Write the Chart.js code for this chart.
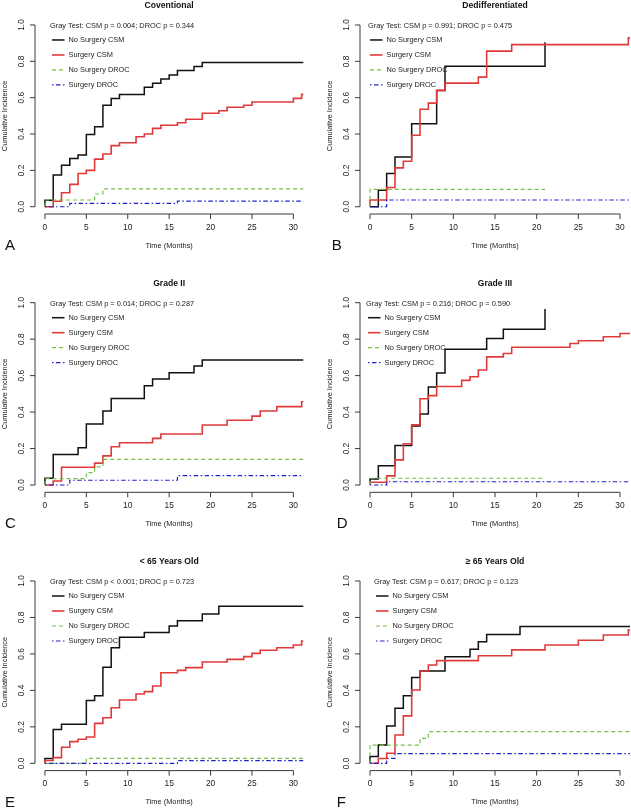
<!DOCTYPE html>
<html>
<head>
<meta charset="utf-8">
<script src="https://cdn.jsdelivr.net/npm/chart.js@4.4.1/dist/chart.umd.min.js"></script>
<style>
  html, body { margin: 0; padding: 0; background: #fff; }
  #wrap { position: relative; width: 631px; height: 809px; overflow: hidden; }
  #wrap canvas { position: absolute; }
</style>
</head>
<body>
<div id="wrap"></div>
<script>
// axis ticks
const xTicks = [0, 5, 10, 15, 20, 25, 30];
const xTickLabels = ["0", "5", "10", "15", "20", "25", "30"];
const yTicks = [0, 0.2, 0.4, 0.6, 0.8, 1.0];
const yTickLabels = ["0.0", "0.2", "0.4", "0.6", "0.8", "1.0"];

const seriesNames = ["No Surgery CSM", "Surgery CSM", "No Surgery DROC", "Surgery DROC"];
const panelTitles = ["Coventional", "Dedifferentiated", "Grade II", "Grade III", "< 65 Years Old", "\u2265 65 Years Old"];
const panelLetters = ["A", "B", "C", "D", "E", "F"];
const grayTests = [
  "Gray Test: CSM p = 0.004; DROC p = 0.344",
  "Gray Test: CSM p = 0.991; DROC p = 0.475",
  "Gray Test: CSM p = 0.014; DROC p = 0.287",
  "Gray Test: CSM p = 0.216; DROC p = 0.590",
  "Gray Test: CSM p < 0.001; DROC p = 0.723",
  "Gray Test: CSM p = 0.617; DROC p = 0.123"
];

// A - Coventional
const aNoSurgCsmT = [0, 0, 1, 2, 3, 4, 5, 6, 7, 8, 9, 12, 13, 14, 15, 16, 18, 19, 32];
const aNoSurgCsmY = [0, 0.035, 0.174, 0.228, 0.266, 0.284, 0.398, 0.44, 0.558, 0.596, 0.618, 0.657, 0.679, 0.703, 0.725, 0.749, 0.771, 0.794, 0.794];
const aSurgCsmT = [0, 1, 2, 3, 4, 5, 6, 7, 8, 9, 11, 12, 13, 14, 16, 17, 19, 21, 22, 24, 25, 30, 31, 32];
const aSurgCsmY = [0, 0.03, 0.077, 0.123, 0.183, 0.2, 0.262, 0.29, 0.336, 0.352, 0.385, 0.4, 0.431, 0.448, 0.462, 0.481, 0.514, 0.528, 0.547, 0.558, 0.576, 0.596, 0.618, 0.618];
const aNoSurgDrocT = [0, 0, 6, 7, 32];
const aNoSurgDrocY = [0, 0.037, 0.07, 0.098, 0.098];
const aSurgDrocT = [0, 3, 16, 32];
const aSurgDrocY = [0, 0.018, 0.031, 0.031];

// B - Dedifferentiated
const bNoSurgCsmT = [0, 1, 2, 3, 5, 8, 9, 21];
const bNoSurgCsmY = [0, 0.091, 0.183, 0.274, 0.457, 0.64, 0.773, 0.905];
const bSurgCsmT = [0, 0, 2, 3, 4, 5, 6, 7, 8, 9, 13, 14, 17, 31, 32];
const bSurgCsmY = [0, 0.037, 0.106, 0.214, 0.25, 0.393, 0.536, 0.57, 0.64, 0.68, 0.713, 0.856, 0.892, 0.929, 0.929];
const bNoSurgDrocT = [0, 0, 21];
const bNoSurgDrocY = [0, 0.095, 0.095];
const bSurgDrocT = [0, 2, 32];
const bSurgDrocY = [0, 0.037, 0.037];

// C - Grade II
const cNoSurgCsmT = [0, 0, 1, 4, 5, 7, 8, 12, 13, 15, 18, 19, 32];
const cNoSurgCsmY = [0, 0.037, 0.168, 0.205, 0.335, 0.406, 0.475, 0.545, 0.581, 0.616, 0.653, 0.686, 0.686];
const cSurgCsmT = [0, 1, 2, 6, 7, 8, 9, 13, 14, 19, 22, 25, 26, 28, 31, 32];
const cSurgCsmY = [0, 0.022, 0.097, 0.12, 0.16, 0.21, 0.232, 0.256, 0.28, 0.329, 0.355, 0.378, 0.406, 0.43, 0.457, 0.457];
const cNoSurgDrocT = [0, 0, 5, 6, 7, 32];
const cNoSurgDrocY = [0, 0.035, 0.068, 0.1, 0.141, 0.141];
const cSurgDrocT = [0, 3, 16, 32];
const cSurgDrocY = [0, 0.026, 0.051, 0.051];

// D - Grade III
const dNoSurgCsmT = [0, 0, 1, 3, 5, 6, 7, 8, 9, 14, 16, 21];
const dNoSurgCsmY = [0, 0.033, 0.106, 0.217, 0.323, 0.39, 0.538, 0.615, 0.745, 0.804, 0.855, 0.965];
const dSurgCsmT = [0, 0, 2, 3, 4, 5, 6, 7, 8, 11, 12, 13, 14, 16, 17, 24, 25, 28, 30, 32];
const dSurgCsmY = [0, 0.015, 0.05, 0.138, 0.226, 0.33, 0.473, 0.49, 0.54, 0.574, 0.594, 0.631, 0.703, 0.721, 0.756, 0.776, 0.791, 0.813, 0.831, 0.831];
const dNoSurgDrocT = [0, 0, 21];
const dNoSurgDrocY = [0, 0.037, 0.037];
const dSurgDrocT = [0, 2, 32];
const dSurgDrocY = [0, 0.018, 0.018];

// E - < 65 years
const eNoSurgCsmT = [0, 0, 1, 2, 5, 6, 7, 8, 9, 12, 15, 16, 19, 21, 32];
const eNoSurgCsmY = [0, 0.027, 0.186, 0.214, 0.344, 0.371, 0.527, 0.634, 0.691, 0.717, 0.753, 0.782, 0.819, 0.861, 0.861];
const eSurgCsmT = [0, 0, 1, 2, 3, 4, 5, 6, 7, 8, 9, 11, 12, 13, 14, 16, 17, 19, 22, 24, 25, 26, 28, 30, 31, 32];
const eSurgCsmY = [0, 0.015, 0.031, 0.088, 0.119, 0.132, 0.144, 0.219, 0.25, 0.305, 0.347, 0.38, 0.393, 0.424, 0.497, 0.51, 0.525, 0.556, 0.57, 0.585, 0.603, 0.62, 0.634, 0.649, 0.671, 0.671];
const eNoSurgDrocT = [0, 5, 32];
const eNoSurgDrocY = [0, 0.027, 0.027];
const eSurgDrocT = [0, 16, 32];
const eSurgDrocY = [0, 0.015, 0.015];

// F - >= 65 years
const fNoSurgCsmT = [0, 0, 1, 2, 3, 4, 5, 6, 9, 12, 13, 14, 18, 32];
const fNoSurgCsmY = [0, 0.037, 0.1, 0.205, 0.302, 0.371, 0.47, 0.506, 0.585, 0.625, 0.667, 0.707, 0.751, 0.751];
const fSurgCsmT = [0, 1, 2, 3, 4, 5, 6, 7, 8, 13, 17, 21, 25, 28, 31, 32];
const fSurgCsmY = [0, 0.026, 0.055, 0.155, 0.26, 0.402, 0.506, 0.539, 0.563, 0.59, 0.622, 0.649, 0.675, 0.704, 0.731, 0.731];
const fNoSurgDrocT = [0, 0, 6, 7, 32];
const fNoSurgDrocY = [0, 0.1, 0.137, 0.174, 0.174];
const fSurgDrocT = [0, 2, 3, 32];
const fSurgDrocY = [0, 0.027, 0.053, 0.053];

const panelSeries = [
  [[aNoSurgCsmT, aNoSurgCsmY], [aSurgCsmT, aSurgCsmY], [aNoSurgDrocT, aNoSurgDrocY], [aSurgDrocT, aSurgDrocY]],
  [[bNoSurgCsmT, bNoSurgCsmY], [bSurgCsmT, bSurgCsmY], [bNoSurgDrocT, bNoSurgDrocY], [bSurgDrocT, bSurgDrocY]],
  [[cNoSurgCsmT, cNoSurgCsmY], [cSurgCsmT, cSurgCsmY], [cNoSurgDrocT, cNoSurgDrocY], [cSurgDrocT, cSurgDrocY]],
  [[dNoSurgCsmT, dNoSurgCsmY], [dSurgCsmT, dSurgCsmY], [dNoSurgDrocT, dNoSurgDrocY], [dSurgDrocT, dSurgDrocY]],
  [[eNoSurgCsmT, eNoSurgCsmY], [eSurgCsmT, eSurgCsmY], [eNoSurgDrocT, eNoSurgDrocY], [eSurgDrocT, eSurgDrocY]],
  [[fNoSurgCsmT, fNoSurgCsmY], [fSurgCsmT, fSurgCsmY], [fNoSurgDrocT, fNoSurgDrocY], [fSurgDrocT, fSurgDrocY]]
];

// line styles
const lineColors = ["#111111", "#e03a3a", "#74c043", "#2020d0"];
const lineDashes = [[], [], [4, 3], [1.5, 2.5, 4.5, 2.5]];
const lineWidths = [1.5, 1.6, 1.2, 1.2];

// where each panel sits on the page
const panelBoxes = [
  { left: 0,   top: 0,   w: 310, h: 265, pad: { left: 35, right: 6.7, top: 17.7, bottom: 51 },   legendX: 17, letterX: 5 },
  { left: 310, top: 0,   w: 321, h: 265, pad: { left: 50, right: 1,   top: 17.7, bottom: 51 },   legendX: 10, letterX: 21.7 },
  { left: 0,   top: 265, w: 310, h: 270, pad: { left: 35, right: 6.7, top: 30.4, bottom: 42.7 }, legendX: 17, letterX: 5 },
  { left: 310, top: 265, w: 321, h: 270, pad: { left: 50, right: 1,   top: 30.4, bottom: 42.7 }, legendX: 8,  letterX: 26.7 },
  { left: 0,   top: 535, w: 310, h: 274, pad: { left: 35, right: 6.7, top: 38.7, bottom: 38.4 }, legendX: 17, letterX: 5 },
  { left: 310, top: 535, w: 321, h: 274, pad: { left: 50, right: 1,   top: 38.7, bottom: 38.4 }, legendX: 16, letterX: 26.7 }
];

const FONT = '"Liberation Sans", Arial, Helvetica, sans-serif';

// R-style axes, title, legend and panel letter
const rStyle = {
  id: "rStyle",
  afterDraw(chart, args, opts) {
    const { ctx, chartArea: ca, scales: { x, y } } = chart;
    const i = opts.idx;
    const box = panelBoxes[i];
    ctx.save();
    ctx.strokeStyle = "#3a3a3a";
    ctx.lineWidth = 1;
    ctx.setLineDash([]);
    const ax = ca.left, ay = ca.bottom;
    ctx.beginPath();
    ctx.moveTo(ax, y.getPixelForValue(yTicks[0]));
    ctx.lineTo(ax, y.getPixelForValue(yTicks[yTicks.length - 1]));
    yTicks.forEach(v => {
      const py = y.getPixelForValue(v);
      ctx.moveTo(ax, py);
      ctx.lineTo(ax - 5, py);
    });
    ctx.moveTo(x.getPixelForValue(xTicks[0]), ay);
    ctx.lineTo(x.getPixelForValue(xTicks[xTicks.length - 1]), ay);
    xTicks.forEach(v => {
      const px = x.getPixelForValue(v);
      ctx.moveTo(px, ay);
      ctx.lineTo(px, ay + 5);
    });
    ctx.stroke();

    ctx.fillStyle = "#222";
    ctx.textAlign = "center";
    ctx.textBaseline = "middle";
    ctx.font = "8.4px " + FONT;
    xTicks.forEach((v, k) => ctx.fillText(xTickLabels[k], x.getPixelForValue(v), ay + 13.5));
    yTicks.forEach((v, k) => {
      ctx.save();
      ctx.translate(ax - 13, y.getPixelForValue(v));
      ctx.rotate(-Math.PI / 2);
      ctx.fillText(yTickLabels[k], 0, 0);
      ctx.restore();
    });

    ctx.font = "7.4px " + FONT;
    ctx.fillText("Time (Months)", (ca.left + ca.right) / 2, ay + 31.5);
    ctx.save();
    ctx.translate(ax - 30, (y.getPixelForValue(0) + y.getPixelForValue(1)) / 2);
    ctx.rotate(-Math.PI / 2);
    ctx.fillText("Cumulative Incidence", 0, 0);
    ctx.restore();

    const top = y.getPixelForValue(1);
    ctx.fillStyle = "#111";
    ctx.font = "bold 8.6px " + FONT;
    ctx.fillText(panelTitles[i], (ca.left + ca.right) / 2, top - 19);

    // legend
    const lx = ca.left + box.legendX;
    ctx.textAlign = "left";
    ctx.fillStyle = "#222";
    ctx.font = "7.4px " + FONT;
    ctx.fillText(grayTests[i], lx - 2, top + 1);
    chart.data.datasets.forEach((ds, k) => {
      const ly = top + 15 * (k + 1);
      ctx.save();
      ctx.strokeStyle = ds.borderColor;
      ctx.lineWidth = ds.borderWidth;
      ctx.setLineDash(ds.borderDash);
      ctx.beginPath();
      ctx.moveTo(lx, ly);
      ctx.lineTo(lx + 12.5, ly);
      ctx.stroke();
      ctx.restore();
      ctx.fillText(ds.label, lx + 16.5, ly);
    });

    ctx.fillStyle = "#111";
    ctx.font = "15px " + FONT;
    ctx.fillText(panelLetters[i], box.letterX, ay + 32);
    ctx.restore();
  }
};

const wrap = document.getElementById("wrap");

panelBoxes.forEach((box, i) => {
  const canvas = document.createElement("canvas");
  canvas.width = box.w;
  canvas.height = box.h;
  canvas.style.left = box.left + "px";
  canvas.style.top = box.top + "px";
  canvas.style.width = box.w + "px";
  canvas.style.height = box.h + "px";
  wrap.appendChild(canvas);

  const datasets = panelSeries[i].map(([t, v], k) => ({
    label: seriesNames[k],
    data: t.map((tt, j) => ({ x: tt, y: v[j] })),
    borderColor: lineColors[k],
    borderDash: lineDashes[k],
    borderWidth: lineWidths[k],
    stepped: "before",
    pointRadius: 0,
    fill: false,
    clip: 0,
    order: 4 - k
  }));

  new Chart(canvas, {
    type: "line",
    data: { datasets: datasets },
    options: {
      responsive: false,
      animation: false,
      devicePixelRatio: 1,
      events: [],
      layout: { padding: box.pad },
      scales: {
        x: { type: "linear", min: -1.2, max: 31.2, display: false },
        y: { type: "linear", min: -0.04, max: 1.04, display: false }
      },
      plugins: {
        legend: { display: false },
        tooltip: { enabled: false },
        rStyle: { idx: i }
      }
    },
    plugins: [rStyle]
  });
});
</script>
</body>
</html>
